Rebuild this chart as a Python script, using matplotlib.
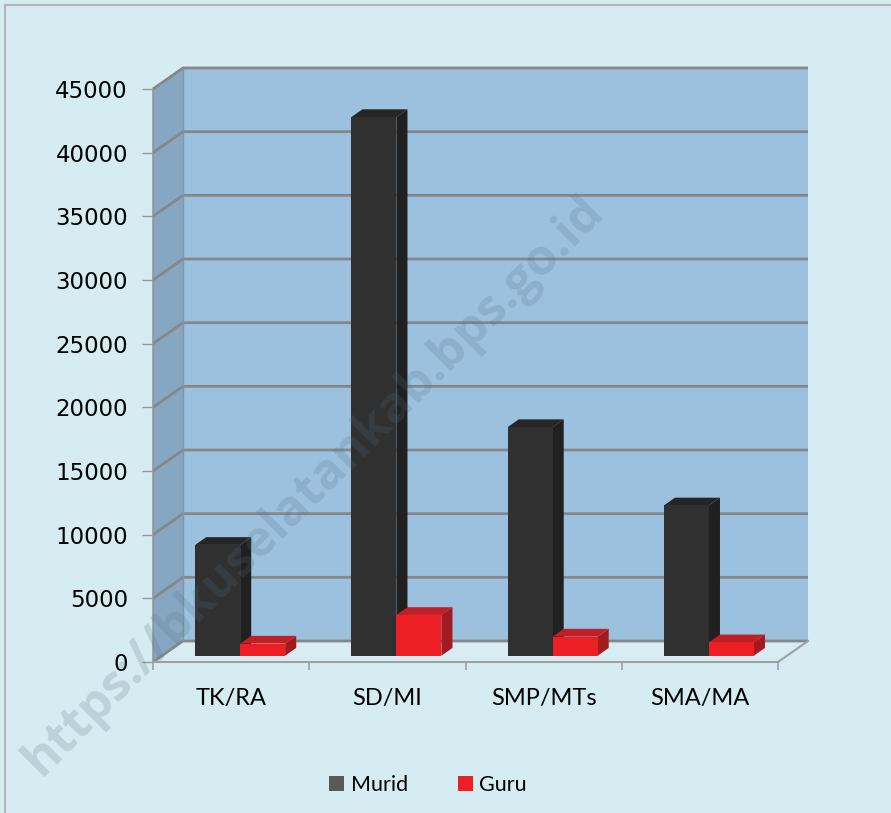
import matplotlib.pyplot as plt
from matplotlib.patches import Polygon, Rectangle
from matplotlib.lines import Line2D

# data
categories = ["TK/RA", "SD/MI", "SMP/MTs", "SMA/MA"]
murid = [8700, 42300, 17950, 11800]
guru = [950, 3200, 1500, 1050]
series_names = ["Murid", "Guru"]
yticks = list(range(0, 45001, 5000))

# colours
bg = "#D5ECF2"
back_wall = "#9CC1DF"
side_wall = "#86A7C1"
floor_col = "#D7ECF3"
grid_col = "#878787"
murid_cols = ("#303030", "#202020", "#262626")   # front, side, top
guru_cols = ("#ED1F24", "#A21B1F", "#BF1F25")

W, H = 891, 813
fig = plt.figure(figsize=(W / 100, H / 100), dpi=100)
fig.patch.set_facecolor(bg)
# outer frame (only top and left edges are inside the picture)
fig.lines.append(Line2D([5 / W, 1.0], [(H - 5) / H, (H - 5) / H], transform=fig.transFigure,
                        color="#B5B5B5", lw=1.5))
fig.lines.append(Line2D([5 / W, 5 / W], [0, (H - 5) / H], transform=fig.transFigure,
                        color="#B5B5B5", lw=1.5))

# front plane: x 153..778 px, value 0 at 662 px, 45000 at 89 px; depth offset (+30px, -21px)
ymax = 45000
px_per_cat = 625 / 4
px_per_val = 573 / ymax
DX = 30 / px_per_cat
DY = 21 / px_per_val

left, right = 153, 808
bottom, top = 662, 68
ax = fig.add_axes([left / W, (H - bottom) / H, (right - left) / W, (bottom - top) / H])
ax.set_xlim(0, 4 + DX)
ax.set_ylim(0, ymax + DY)
ax.patch.set_alpha(0)
for s in ax.spines.values():
    s.set_visible(False)

# walls and floor
ax.add_patch(Polygon([(0, 0), (DX, DY), (DX, ymax + DY), (0, ymax)], closed=True,
                     facecolor=side_wall, edgecolor="none", zorder=1))
ax.add_patch(Polygon([(DX, DY), (4 + DX, DY), (4 + DX, ymax + DY), (DX, ymax + DY)], closed=True,
                     facecolor=back_wall, edgecolor="none", zorder=1))
ax.add_patch(Polygon([(0, 0), (4, 0), (4 + DX, DY), (DX, DY)], closed=True,
                     facecolor=floor_col, edgecolor="none", zorder=1))

for v in yticks:
    ax.plot([0, DX, 4 + DX], [v, v + DY, v + DY], color=grid_col, lw=2, zorder=2,
            solid_capstyle="butt", clip_on=False)
ax.plot([0, 0], [0, ymax], color="#8A9AA6", lw=1.2, zorder=2, clip_on=False)
ax.plot([DX, DX], [DY, ymax + DY], color="#7F97AA", lw=1, zorder=2)
ax.plot([0, 4, 4 + DX], [0, 0, DY], color="#A0A0A0", lw=1.5, zorder=2, clip_on=False)

# 3d bars
f0 = 0.30
depth = 0.37
bw = 45 / px_per_cat


def bar3d(x0, val, cols):
    x1 = x0 + bw
    b = f0 * DY
    t = val + f0 * DY
    x0 += f0 * DX
    x1 += f0 * DX
    ddx, ddy = depth * DX, depth * DY
    front, side, topc = cols
    ax.add_patch(Polygon([(x1, b), (x1 + ddx, b + ddy), (x1 + ddx, t + ddy), (x1, t)],
                         closed=True, facecolor=side, edgecolor="none", zorder=3))
    ax.add_patch(Polygon([(x0, t), (x1, t), (x1 + ddx, t + ddy), (x0 + ddx, t + ddy)],
                         closed=True, facecolor=topc, edgecolor="none", zorder=3))
    ax.add_patch(Rectangle((x0, b), bw, t - b, facecolor=front, edgecolor="none", zorder=3))


for i in range(len(categories)):
    c = i + 0.5
    bar3d(c - bw, murid[i], murid_cols)
    bar3d(c, guru[i], guru_cols)

# axes ticks and labels
ax.set_yticks(yticks)
ax.set_yticklabels([str(v) for v in yticks], fontsize=16.5, family="DejaVu Sans")
ax.tick_params(axis="y", length=8, width=1, color="#999999", pad=10)
ax.set_xticks(range(5))
ax.set_xticklabels([""] * 5)
ax.set_xticks([i + 0.5 for i in range(4)], minor=True)
ax.set_xticklabels(categories, minor=True, fontsize=17, family="Lato")
ax.tick_params(axis="x", which="major", length=6, width=1.2, color="#A0A0A0")
ax.tick_params(axis="x", which="minor", length=0, pad=19)

# legend
handles = [Rectangle((0, 0), 1, 1, facecolor="#595959"), Rectangle((0, 0), 1, 1, facecolor="#ED1F24")]
fig.legend(handles, series_names, loc="center", bbox_to_anchor=(428 / W, (H - 785) / H),
           ncol=2, frameon=False, prop={"family": "Lato", "size": 15.5},
           handlelength=0.7, handleheight=0.7, handletextpad=0.3, columnspacing=2.3)

# watermark
fig.text(314 / W, (H - 486) / H, "https://bkuselatankab.bps.go.id", rotation=45,
         ha="center", va="center", fontsize=36, fontweight="bold", family="Open Sans",
         color="#4F6F80", alpha=0.2, zorder=10)

fig.savefig("out.png", dpi=100, facecolor=fig.get_facecolor())
